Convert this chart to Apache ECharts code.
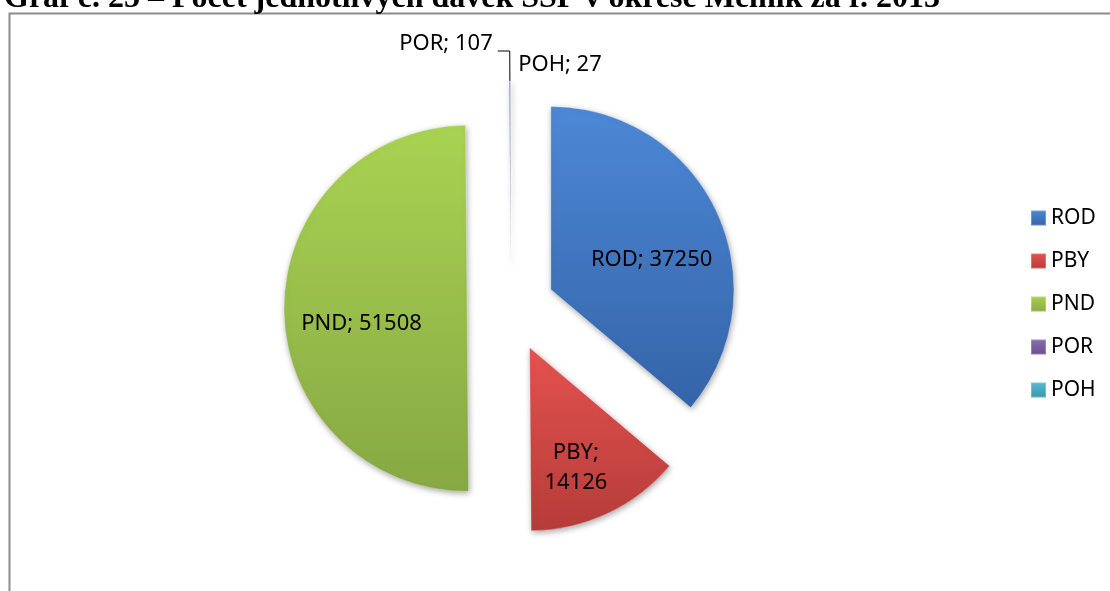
<!DOCTYPE html>
<html>
<head>
<meta charset="utf-8">
<script src="https://cdn.jsdelivr.net/npm/echarts@6/dist/echarts.min.js"></script>
<style>
  html, body { margin: 0; padding: 0; background: #fff; }
  #chart { width: 1110px; height: 591px; }
</style>
</head>
<body>
<div id="chart"></div>
<script>
const categories = ['ROD', 'PBY', 'PND', 'POR', 'POH']
const values = [37250, 14126, 51508, 107, 27]
const titleText = 'Graf č. 25 – Počet jednotlivých dávek SSP v okrese Mělník za r. 2013'

// barvy (Office styl) – horni a dolni odstin pro prechod
const colorsTop = ['#4d88d6', '#e4524f', '#a9d352', '#8a6db0', '#55bcd6']
const colorsBottom = ['#3464a8', '#b53c39', '#87a843', '#684f8b', '#3a93ad']

// posun popisku oproti vychozi pozici [dx, dy]
const labelShift = [[15, 10], [6, 34], [-11, 15], [0, -7], [108, 14]]

const chart = echarts.init(document.getElementById('chart'))

const labelFont = { fontFamily: 'Noto Sans', fontSize: 22, color: '#000' }

const itemLabels = [
  { position: 'inside' },
  { position: 'inside', formatter: '{b};\n{c}', lineHeight: 30 },
  { position: 'inside' },
  { position: 'outside' },
  { position: 'outside' },
]

const option = {
  animation: false,
  graphic: [
    {
      type: 'rect',
      shape: { x: 9.5, y: 13.5, width: 1200, height: 700 },
      style: { fill: 'none', stroke: '#8c8c8c', lineWidth: 2 },
      z: -1,
    },
  ],
  title: {
    text: titleText,
    left: -1,
    top: -22,
    textStyle: {
      fontFamily: 'Liberation Serif',
      fontWeight: 'bold',
      fontSize: 32,
      color: '#000',
    },
  },
  legend: {
    orient: 'vertical',
    left: 1025,
    top: 202,
    icon: 'rect',
    itemWidth: 15,
    itemHeight: 15,
    itemGap: 21,
    textStyle: { fontFamily: 'Noto Sans', fontSize: 21, color: '#000', lineHeight: 22 },
    data: categories,
  },
  series: [
    {
      type: 'pie',
      center: [511, 308],
      radius: 183,
      startAngle: 90,
      clockwise: true,
      selectedMode: 'multiple',
      selectedOffset: 44,
      avoidLabelOverlap: false,
      label: Object.assign({ formatter: '{b}; {c}' }, labelFont),
      labelLine: { show: true, length: 30, length2: 12, lineStyle: { color: '#000', width: 1 } },
      labelLayout: (params) => ({ dx: labelShift[params.dataIndex][0], dy: labelShift[params.dataIndex][1] }),
      itemStyle: {
        shadowBlur: 6,
        shadowColor: 'rgba(0,0,0,0.35)',
        shadowOffsetX: 1,
        shadowOffsetY: 2,
      },
      emphasis: { disabled: true },
      data: categories.map((name, i) => ({
        name: name,
        value: values[i],
        selected: true,
        label: itemLabels[i],
        labelLine: { show: i === 3 },
        itemStyle: {
          color: new echarts.graphic.LinearGradient(0, 0, 0, 1, [
            { offset: 0, color: colorsTop[i] },
            { offset: 1, color: colorsBottom[i] },
          ]),
          borderColor: 'rgba(255,255,255,0.25)',
          borderWidth: 1,
        },
      })),
    },
  ],
}

chart.setOption(option)
</script>
</body>
</html>
